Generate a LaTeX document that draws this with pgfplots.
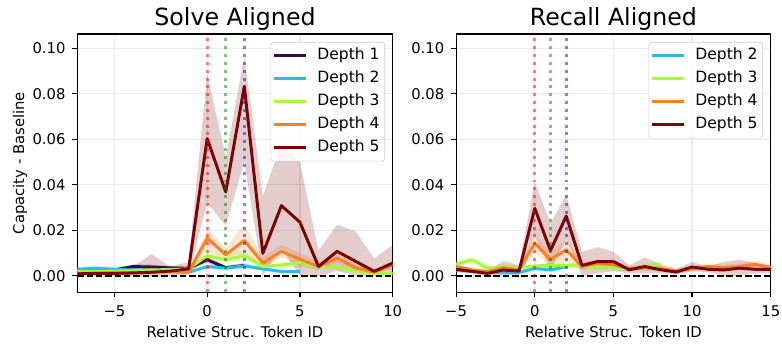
\documentclass[border=0pt]{standalone}
\usepackage{fontspec}
\setmainfont{DejaVu Sans}
\usepackage{pgfplots}
\usepackage{pgfplotstable}
\pgfplotsset{compat=1.18}
\usepgfplotslibrary{fillbetween}

% turbo colormap samples for depths 1..5
\definecolor{dA}{RGB}{48,18,59}
\definecolor{dB}{RGB}{40,187,236}
\definecolor{dC}{RGB}{164,252,60}
\definecolor{dD}{RGB}{251,128,34}
\definecolor{dE}{RGB}{122,4,3}
\definecolor{gridc}{RGB}{235,235,235}

% ---------------- Solve aligned ----------------
\pgfplotstableread{
x y lo hi
-7 0.0018 0.0010 0.0026
-6 0.0022 0.0014 0.0030
-5 0.0025 0.0017 0.0033
-4 0.0040 0.0030 0.0050
-3 0.0038 0.0028 0.0048
-2 0.0034 0.0025 0.0043
-1 0.0032 0.0024 0.0040
0 0.0070 0.0055 0.0085
1 0.0035 0.0027 0.0043
2 0.0045 0.0035 0.0055
}\SolveA
\pgfplotstableread{
x y lo hi
-7 0.0028 0.0018 0.0038
-6 0.0032 0.0020 0.0046
-5 0.0028 0.0019 0.0037
-4 0.0025 0.0017 0.0033
-3 0.0022 0.0015 0.0029
-2 0.0018 0.0012 0.0024
-1 0.0015 0.0010 0.0020
0 0.0040 0.0030 0.0050
1 0.0033 0.0025 0.0041
2 0.0043 0.0033 0.0053
3 0.0030 0.0022 0.0038
4 0.0018 0.0012 0.0024
5 0.0018 0.0012 0.0024
}\SolveB
\pgfplotstableread{
x y lo hi
-7 0.0018 0.0010 0.0026
-6 0.0018 0.0010 0.0026
-5 0.0020 0.0012 0.0028
-4 0.0022 0.0014 0.0030
-3 0.0025 0.0016 0.0034
-2 0.0027 0.0018 0.0036
-1 0.0030 0.0020 0.0040
0 0.0088 0.0065 0.0111
1 0.0070 0.0050 0.0090
2 0.0088 0.0065 0.0111
3 0.0040 0.0028 0.0052
4 0.0047 0.0030 0.0064
5 0.0057 0.0040 0.0074
6 0.0038 0.0025 0.0051
7 0.0038 0.0025 0.0051
8 0.0020 0.0012 0.0028
9 0.0010 0.0004 0.0016
10 0.0010 0.0004 0.0016
}\SolveC
\pgfplotstableread{
x y lo hi
-7 0.0010 0.0004 0.0016
-6 0.0010 0.0004 0.0016
-5 0.0012 0.0005 0.0019
-4 0.0012 0.0005 0.0019
-3 0.0015 0.0007 0.0023
-2 0.0018 0.0009 0.0027
-1 0.0015 0.0007 0.0023
0 0.0165 0.0120 0.0205
1 0.0092 0.0060 0.0125
2 0.0155 0.0090 0.0225
3 0.0055 0.0035 0.0080
4 0.0107 0.0080 0.0135
5 0.0072 0.0045 0.0100
6 0.0040 0.0025 0.0060
7 0.0077 0.0055 0.0100
8 0.0035 0.0020 0.0050
9 0.0015 0.0007 0.0025
10 0.0048 0.0030 0.0065
}\SolveD
\pgfplotstableread{
x y lo hi
-7 0.0008 0.0000 0.0020
-6 0.0010 0.0000 0.0020
-5 0.0010 0.0000 0.0022
-4 0.0012 -0.0002 0.0040
-3 0.0015 -0.0005 0.0095
-2 0.0020 0.0000 0.0040
-1 0.0030 0.0005 0.0060
0 0.0603 0.0320 0.0888
1 0.0368 0.0220 0.0520
2 0.0832 0.0500 0.0965
3 0.0098 0.0000 0.0350
4 0.0308 0.0120 0.0580
5 0.0235 0.0000 0.0500
6 0.0040 0.0000 0.0110
7 0.0107 0.0020 0.0225
8 0.0063 0.0000 0.0195
9 0.0019 0.0000 0.0075
10 0.0055 0.0000 0.0135
}\SolveE

% ---------------- Recall aligned ----------------
\pgfplotstableread{
x y lo hi
-5 0.0025 0.0015 0.0035
-4 0.0020 0.0012 0.0028
-3 0.0015 0.0008 0.0022
-2 0.0015 0.0008 0.0022
-1 0.0014 0.0007 0.0021
0 0.0032 0.0022 0.0042
1 0.0025 0.0017 0.0033
2 0.0040 0.0030 0.0050
}\RecallB
\pgfplotstableread{
x y lo hi
-5 0.0050 0.0035 0.0065
-4 0.0070 0.0055 0.0085
-3 0.0032 0.0020 0.0044
-2 0.0040 0.0028 0.0052
-1 0.0035 0.0025 0.0045
0 0.0043 0.0032 0.0054
1 0.0045 0.0034 0.0056
2 0.0045 0.0034 0.0056
3 0.0042 0.0030 0.0054
4 0.0035 0.0024 0.0046
5 0.0035 0.0024 0.0046
6 0.0028 0.0018 0.0038
7 0.0040 0.0028 0.0052
8 0.0050 0.0038 0.0062
}\RecallC
\pgfplotstableread{
x y lo hi
-5 0.0040 0.0025 0.0055
-4 0.0025 0.0015 0.0035
-3 0.0018 0.0010 0.0026
-2 0.0035 0.0022 0.0048
-1 0.0025 0.0015 0.0035
0 0.0143 0.0100 0.0180
1 0.0070 0.0040 0.0100
2 0.0114 0.0060 0.0160
3 0.0040 0.0025 0.0055
4 0.0055 0.0038 0.0072
5 0.0048 0.0032 0.0064
6 0.0030 0.0018 0.0042
7 0.0035 0.0022 0.0048
8 0.0030 0.0018 0.0042
9 0.0020 0.0010 0.0030
10 0.0030 0.0018 0.0042
11 0.0040 0.0026 0.0054
12 0.0035 0.0022 0.0048
13 0.0040 0.0026 0.0054
14 0.0050 0.0034 0.0066
15 0.0035 0.0022 0.0048
}\RecallD
\pgfplotstableread{
x y lo hi
-5 0.0028 0.0015 0.0040
-4 0.0019 0.0010 0.0030
-3 0.0010 0.0000 0.0020
-2 0.0025 0.0000 0.0065
-1 0.0020 0.0005 0.0045
0 0.0296 0.0180 0.0413
1 0.0110 0.0025 0.0230
2 0.0262 0.0160 0.0355
3 0.0045 0.0000 0.0105
4 0.0062 0.0010 0.0125
5 0.0062 0.0020 0.0105
6 0.0026 0.0010 0.0045
7 0.0040 0.0010 0.0080
8 0.0026 0.0010 0.0050
9 0.0016 0.0005 0.0030
10 0.0038 0.0020 0.0060
11 0.0028 0.0015 0.0040
12 0.0025 0.0000 0.0060
13 0.0033 0.0000 0.0070
14 0.0028 0.0010 0.0055
15 0.0028 0.0010 0.0045
}\RecallE

% mean line with a shaded spread band: #1 table, #2 path id, #3 colour, #4 legend text
\newcommand{\bandline}[4]{%
  \addplot[draw=none, forget plot, name path=#2hi] table[x=x,y=hi]{#1};
  \addplot[draw=none, forget plot, name path=#2lo] table[x=x,y=lo]{#1};
  \addplot[fill=#3, fill opacity=0.2, draw=none, forget plot] fill between[of=#2hi and #2lo];
  \addplot[color=#3, line width=2pt, line join=round] table[x=x,y=y]{#1};
  \addlegendentry{#4}
}

\pgfplotsset{
  every axis title shift=0pt,
  panel/.style={
    scale only axis,
    width=213.2pt, height=174.6pt,
    anchor=south west,
    ymin=-0.0073, ymax=0.1063,
    ytick={0,0.02,0.04,0.06,0.08,0.1},
    yticklabels={0.00,0.02,0.04,0.06,0.08,0.10},
    tick pos=left, tick align=outside,
    major tick length=3.5pt,
    every tick/.style={black, line width=0.8pt},
    axis line style={line width=0.8pt},
    grid=major,
    major grid style={gridc, line width=0.8pt},
    tick label style={font=\fontsize{10}{12}\selectfont},
    yticklabel style={inner sep=0pt, anchor=east, xshift=-4.3pt},
    xticklabel style={inner sep=0pt, anchor=north, yshift=-5.1pt},
    title style={font=\fontsize{16}{19}\selectfont, inner sep=0pt, at={(axis description cs:0.5,1.031)}, anchor=base},
    xlabel style={font=\fontsize{10}{12}\selectfont, inner sep=0pt, at={(axis description cs:0.5,-0.1741)}, anchor=base},
    ylabel style={font=\fontsize{10}{12}\selectfont, inner sep=0pt, at={(axis description cs:-0.1689,0.5)}, anchor=base},
    xlabel={Relative Struc. Token ID},
    legend cell align=left,
    % handle line plus a blank gap before the entry text
    legend image code/.code={%
      \draw[#1, line width=2pt, line cap=rect] (0pt,0pt) -- (20pt,0pt);
      \path (26pt,0pt);},
    legend style={
      at={(axis description cs:1,1)}, anchor=north east,
      xshift=-5.2pt, yshift=-5.4pt,
      font=\fontsize{10.5}{12.5}\selectfont,
      draw=black!20, fill=white, fill opacity=0.8, text opacity=1,
      rounded corners=2pt, inner xsep=2pt, inner ysep=2.5pt,
      nodes={inner sep=1.5pt, text height=8pt, text depth=2.2pt},
      row sep=2.35pt,
    },
  },
}

\begin{document}
\begin{tikzpicture}
% page frame
\path (0,0) rectangle (528.6pt,235.2pt);

\begin{axis}[panel,
  at={(52.26pt,37.65pt)},
  title={Solve Aligned},
  ylabel={Capacity - Baseline},
  xmin=-7, xmax=10,
  xtick={-5,0,5,10},
  xticklabels={−5,0,5,10},
]
\bandline{\SolveA}{sa}{dA}{Depth 1}
\bandline{\SolveB}{sb}{dB}{Depth 2}
\bandline{\SolveC}{sc}{dC}{Depth 3}
\bandline{\SolveD}{sd}{dD}{Depth 4}
\bandline{\SolveE}{se}{dE}{Depth 5}
\addplot[forget plot, black, line width=1.2pt, dash pattern=on 4.4pt off 1.9pt] coordinates {(-7,0) (10,0)};
\addplot[forget plot, red, opacity=0.5, line width=2pt, dash pattern=on 2pt off 3.3pt] coordinates {(0,-0.0073) (0,0.1063)};
\addplot[forget plot, green!50!black, opacity=0.5, line width=2pt, dash pattern=on 2pt off 3.3pt] coordinates {(1,-0.0073) (1,0.1063)};
\addplot[forget plot, blue, opacity=0.5, line width=2pt, dash pattern=on 2pt off 3.3pt] coordinates {(2,-0.0073) (2,0.1063)};
\end{axis}

\begin{axis}[panel,
  at={(308.3pt,37.65pt)},
  width=212.7pt,
  title={Recall Aligned},
  xmin=-5, xmax=15,
  xtick={-5,0,5,10,15},
  xticklabels={−5,0,5,10,15},
]
\bandline{\RecallB}{rb}{dB}{Depth 2}
\bandline{\RecallC}{rc}{dC}{Depth 3}
\bandline{\RecallD}{rd}{dD}{Depth 4}
\bandline{\RecallE}{re}{dE}{Depth 5}
\addplot[forget plot, black, line width=1.2pt, dash pattern=on 4.4pt off 1.9pt] coordinates {(-5,0) (15,0)};
\addplot[forget plot, red, opacity=0.5, line width=2pt, dash pattern=on 2pt off 3.3pt] coordinates {(0,-0.0073) (0,0.1063)};
\addplot[forget plot, green!50!black, opacity=0.5, line width=2pt, dash pattern=on 2pt off 3.3pt] coordinates {(1,-0.0073) (1,0.1063)};
\addplot[forget plot, blue, opacity=0.5, line width=2pt, dash pattern=on 2pt off 3.3pt] coordinates {(2,-0.0073) (2,0.1063)};
\end{axis}
\end{tikzpicture}
\end{document}
